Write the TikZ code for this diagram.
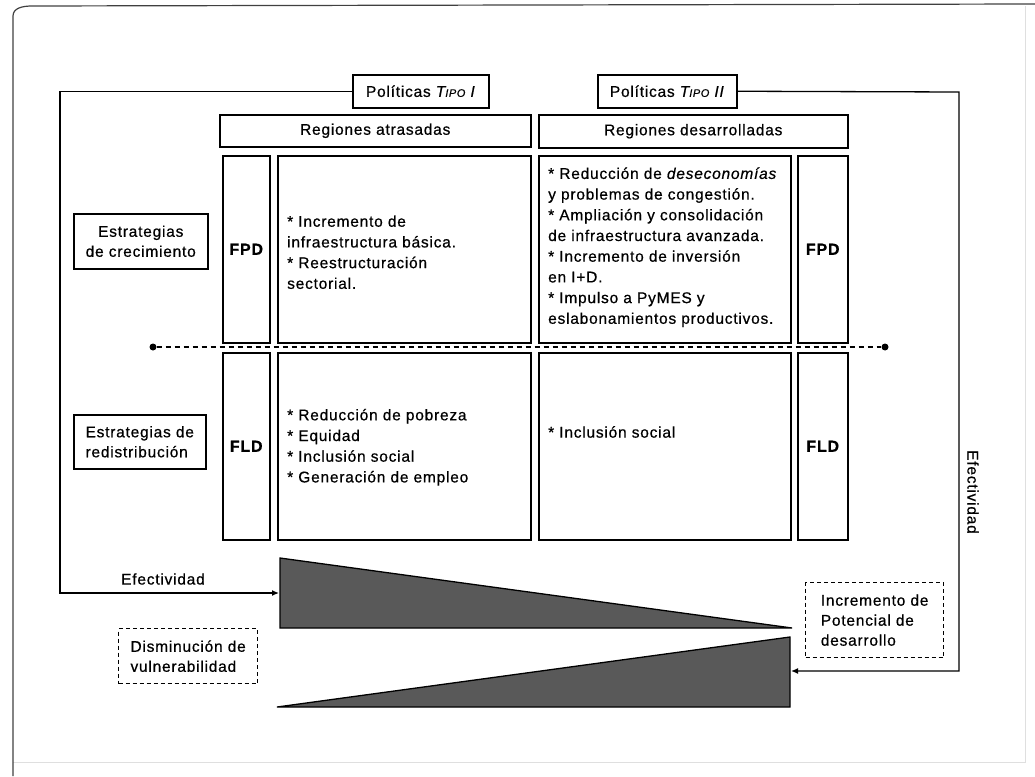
\documentclass[tikz,border=0pt]{standalone}
\usepackage{fontspec}
\setmainfont{Liberation Sans}[LetterSpace=5, FakeBold=0.6]
\usetikzlibrary{arrows.meta,calc}
\definecolor{trigray}{HTML}{595959}
\newcommand{\tipo}[1]{\textit{T{\fontsize{11}{11}\selectfont IPO} #1}}
\begin{document}
\begin{tikzpicture}[x=1pt,y=-1pt,
  box/.style={draw, line width=1.5pt, inner sep=0pt, anchor=north west, font=\fontsize{15.5}{20}\selectfont},
  dbox/.style={draw, dash pattern=on 4pt off 3pt, line width=1.3pt, inner sep=0pt, anchor=north west, font=\fontsize{15.5}{20}\selectfont},
  txt/.style={font=\fontsize{15.5}{20.7}\selectfont, align=left, inner sep=0pt, anchor=west},
  lab/.style={font=\fontsize{15.5}{20}\selectfont, inner sep=0pt},
  big/.style={font=\fontsize{16}{20}\selectfont\bfseries},
  conn/.style={line width=1.3pt},
  arr/.style={conn, -{Latex[length=7pt,width=6pt]}},
  tri/.style={fill=trigray, draw=black, line width=1.3pt, line join=miter},
  dot/.style={circle, fill=black, inner sep=0pt, minimum size=7pt}]
\useasboundingbox (0,0) rectangle (1035,776);
% page frame
\draw[gray!25, line width=1pt] (1025,6) -- (1025,762) -- (13,762);
\draw[black!75, line width=1.2pt] (13,776) -- (13,16) to[out=90,in=180] (32,6) -- (1035,4);
% headers
\node[box, minimum width=136, minimum height=33] (t1) at (352,74) {Políticas \tipo{I}};
\node[box, minimum width=139, minimum height=33] (t2) at (597,74) {Políticas \tipo{II}};
\node[box, minimum width=311, minimum height=32] (ra) at (219,114) {Regiones atrasadas};
\node[box, minimum width=309, minimum height=33] (rd) at (538,114) {Regiones desarrolladas};
% grid
\node[box, minimum width=47, minimum height=187, big] (fpdL) at (222,155) {FPD};
\node[box, minimum width=253, minimum height=187] (c1) at (277,155) {};
\node[box, minimum width=252, minimum height=187] (c2) at (538,155) {};
\node[box, minimum width=50, minimum height=187, big] (fpdR) at (797,155) {FPD};
\node[box, minimum width=47, minimum height=187, big] (fldL) at (222,352) {FLD};
\node[box, minimum width=253, minimum height=187] (c3) at (277,352) {};
\node[box, minimum width=252, minimum height=187] (c4) at (538,352) {};
\node[box, minimum width=50, minimum height=187, big] (fldR) at (797,352) {FLD};
% contents
\node[txt] (c1t) at ($(c1.west)+(10,3)$) {* Incremento de\\infraestructura básica.\\* Reestructuración\\sectorial.};
\node[txt] (c2t) at ($(c2.west)+(10,-2)$) {* Reducción de \textit{deseconomías}\\y problemas de congestión.\\* Ampliación y consolidación\\de infraestructura avanzada.\\* Incremento de inversión\\en I+D.\\* Impulso a PyMES y\\eslabonamientos productivos.};
\node[txt] (c3t) at ($(c3.west)+(10,1)$) {* Reducción de pobreza\\* Equidad\\* Inclusión social\\* Generación de empleo};
\node[txt] (c4t) at ($(c4.north west)+(10,80)$) {* Inclusión social};
% strategies
\node[box, minimum width=134, minimum height=55, align=center] (ec) at (73,213) {Estrategias\\de crecimiento};
\node[box, minimum width=132, minimum height=54, align=left] (er) at (73,414) {Estrategias de\\redistribución};
% dashed separator
\node[dot] (dl) at (153,347) {};
\node[dot] (dr) at (885,347) {};
\draw[conn, dash pattern=on 5pt off 4pt] (dl) -- (dr);
% triangles
\draw[tri] (280,558) -- (280,628) -- (792,628) -- cycle;
\draw[tri] (277,707) -- (790,637) -- (790,707) -- cycle;
\coordinate (triL) at (279,593);
\coordinate (triR) at (791,671);
\coordinate (loopL) at (60,91);
\coordinate (loopR) at (959,92);
% dashed boxes
\node[dbox, minimum width=139, minimum height=55, align=left] (dv) at (118,628) {Disminución de\\vulnerabilidad};
\node[dbox, minimum width=138, minimum height=75, align=left] (ip) at (805,582) {Incremento de\\Potencial de\\desarrollo};
% effectiveness loops
\draw[arr] (t1.west) -| (loopL) |- (triL);
\draw[arr] (t2.east) -- (loopR) |- (triR);
\node[lab] (efL) at (163,579) {Efectividad};
\node[lab, rotate=-90] (efR) at (973,492) {Efectividad};
\end{tikzpicture}
\end{document}
